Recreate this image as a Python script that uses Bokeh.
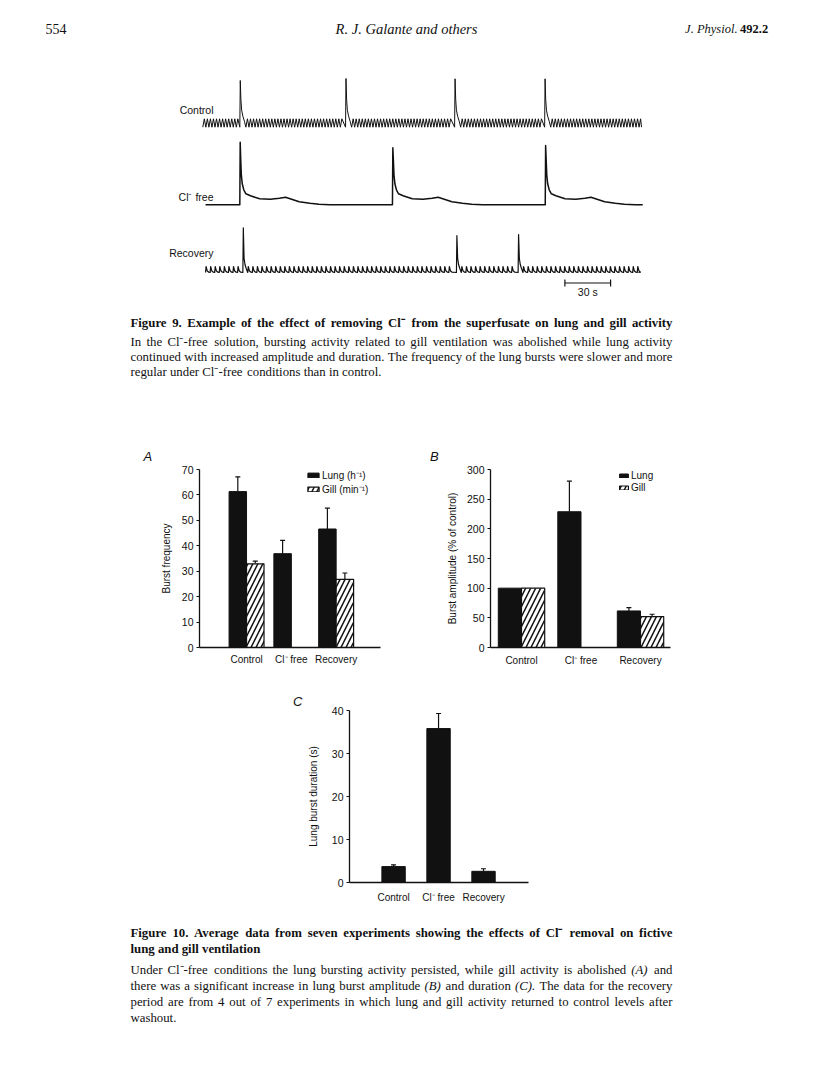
from bokeh.plotting import figure
from bokeh.models import (Range1d, FixedTicker, Whisker, TeeHead, ColumnDataSource,
                          Legend, LegendItem, Spacer)
from bokeh.layouts import column, row
from bokeh.embed import file_html
from bokeh.resources import INLINE
from bokeh.core.properties import value

SERIF = "Liberation Serif"
SANS = "Liberation Sans"
INK = "#111111"

# ---------------- Figure 10 data ----------------
conditions = ["Control", "Cl\u207b free", "Recovery"]
freq_lung = [61.3, 36.9, 46.6]
freq_lung_err = [5.8, 5.2, 8.2]
freq_gill = [32.9, 0.0, 26.8]
freq_gill_err = [1.1, 0.0, 2.5]
amp_lung = [100.0, 228.8, 61.6]
amp_lung_err = [0.0, 51.5, 5.7]
amp_gill = [100.0, 0.0, 52.2]
amp_gill_err = [0.0, 0.0, 3.8]
dur_lung = [3.7, 35.8, 2.6]
dur_lung_err = [0.4, 3.5, 0.6]
freq_ticks = [0, 10, 20, 30, 40, 50, 60, 70]
amp_ticks = [0, 50, 100, 150, 200, 250, 300]
dur_ticks = [0, 10, 20, 30, 40]

# ---------------- Figure 9 data (recordings; time in s, amplitude in a.u.) ----------------
trace_labels = ["Control", "Cl\u207b free", "Recovery"]

control_span = [0.0, 288.0]
control_bursts = [24.3, 93.7, 165.3, 224.4]
control_peaks = [46.7, 48.7, 48.4, 48.4]
control_gill_period = 2.0
control_gill_amp = 8.4
control_cycle_phase = [0.0, 0.5]
control_cycle_level = [0.0, 1.0]
control_burst_dt = [0.0, 0.3, 0.7, 1.2, 2.0, 3.0, 4.0]
control_burst_tail = [28.0, 17.0, 11.0, 6.0, 0.0]

clfree_span = [1.8, 288.8]
clfree_bursts = [24.3, 124.5, 224.8]
clfree_peaks = [62.6, 57.0, 59.3]
clfree_burst_dt = [0.0, 0.25, 0.6, 1.0, 1.6, 2.6, 4.0, 7.0, 13.0, 20.0, 26.0, 30.0, 34.0, 39.0, 46.0, 52.0, 59.0]
clfree_burst_tail = [45.0, 30.0, 21.0, 15.0, 11.0, 9.0, 6.0, 5.5, 6.5, 7.5, 5.5, 3.0, 1.5, 0.5, 0.0]

recovery_span = [1.8, 286.0]
recovery_bursts = [26.3, 166.5, 207.0]
recovery_peaks = [44.7, 37.0, 38.0]
recovery_gill_period = 3.0
recovery_gill_amp = 6.0
recovery_cycle_phase = [0.0, 0.12, 0.35, 0.7]
recovery_cycle_level = [0.0, 1.0, 0.3, 0.05]
recovery_burst_dt = [0.0, 0.3, 0.8, 1.4, 2.2, 3.2]
recovery_burst_tail = [14.0, 8.0, 4.0, 0.0]

scalebar_start = 237.7
scalebar_seconds = 30.0

# ---------------- captions ----------------
header_left = "554"
header_mid = "R. J. Galante and others"
header_journal = "J. Physiol."
header_volume = "492.2"

fig9_title = "Figure 9. Example of the effect of removing Cl\u207b from the superfusate on lung and gill activity"
fig9_body = [
    "In the Cl\u207b-free solution, bursting activity related to gill ventilation was abolished while lung activity",
    "continued with increased amplitude and duration. The frequency of the lung bursts were slower and more",
    "regular under Cl\u207b-free conditions than in control.",
]
fig10_title = [
    "Figure 10. Average data from seven experiments showing the effects of Cl\u207b removal on fictive",
    "lung and gill ventilation",
]
fig10_body = [
    "Under Cl\u207b-free conditions the lung bursting activity persisted, while gill activity is abolished (A) and",
    "there was a significant increase in lung burst amplitude (B) and duration (C). The data for the recovery",
    "period are from 4 out of 7 experiments in which lung and gill activity returned to control levels after",
    "washout.",
]
italic_tokens = {"(A)", "(B)", "(C)."}

# ---------------- helpers ----------------
W_REG = {" ": 250, "(": 333, ")": 333, ",": 250, "-": 333, ".": 250, ":": 278,
         "A": 722, "B": 667, "C": 667, "D": 722, "E": 611, "F": 556, "G": 722, "H": 722, "I": 333,
         "J": 389, "K": 722, "L": 611, "M": 889, "N": 722, "O": 722, "P": 556, "Q": 722, "R": 667,
         "S": 556, "T": 611, "U": 722, "V": 722, "W": 944, "X": 722, "Y": 722, "Z": 611,
         "a": 444, "b": 500, "c": 444, "d": 500, "e": 444, "f": 333, "g": 500, "h": 500, "i": 278,
         "j": 278, "k": 500, "l": 278, "m": 778, "n": 500, "o": 500, "p": 500, "q": 500, "r": 333,
         "s": 389, "t": 278, "u": 500, "v": 500, "w": 722, "x": 500, "y": 500, "z": 444,
         "\u207b": 420}
W_BOLD = {" ": 250, "(": 333, ")": 333, ",": 250, "-": 333, ".": 250, ":": 333,
          "A": 722, "B": 667, "C": 722, "D": 722, "E": 667, "F": 611, "G": 778, "H": 778, "I": 389,
          "J": 500, "K": 778, "L": 667, "M": 944, "N": 722, "O": 778, "P": 611, "Q": 778, "R": 722,
          "S": 556, "T": 667, "U": 722, "V": 722, "W": 1000, "X": 722, "Y": 722, "Z": 667,
          "a": 500, "b": 556, "c": 444, "d": 556, "e": 444, "f": 333, "g": 500, "h": 556, "i": 278,
          "j": 333, "k": 556, "l": 278, "m": 833, "n": 556, "o": 500, "p": 556, "q": 556, "r": 444,
          "s": 389, "t": 333, "u": 556, "v": 500, "w": 722, "x": 500, "y": 500, "z": 444,
          "\u207b": 420}


def text_width(s, size, bold=False):
    tbl = W_BOLD if bold else W_REG
    return sum(tbl.get(ch, 500) for ch in s) * size / 1000.0


def put_text(p, xs, ys, texts, size, font=SERIF, style="normal", align="left",
             baseline="middle", color=INK, **kw):
    p.text(x=xs, y=ys, text=texts, text_font=value(font), text_font_size=value(f"{size}px"),
           text_font_style=style, text_align=align, text_baseline=baseline,
           text_color=color, **kw)


def put_line(p, line, x0, x1, y, size, bold=False, justify=True):
    words = line.split(" ")
    widths = [text_width(w, size, bold) for w in words]
    if justify and len(words) > 1:
        gap = (x1 - x0 - sum(widths)) / (len(words) - 1)
        gap = max(gap, size * 0.18)
    else:
        gap = size * 0.25
    xs, x = [], x0
    for wd in widths:
        xs.append(x)
        x += wd + gap
    base_style = "bold" if bold else "normal"
    norm = [(xx, w) for xx, w in zip(xs, words) if w not in italic_tokens]
    ital = [(xx, w) for xx, w in zip(xs, words) if w in italic_tokens]
    if norm:
        put_text(p, [a for a, _ in norm], [y] * len(norm), [b for _, b in norm], size,
                 style=base_style)
    if ital:
        put_text(p, [a for a, _ in ital], [y] * len(ital), [b for _, b in ital], size,
                 style="italic")


def text_canvas(width, x0, x1, ytop, ybot):
    p = figure(width=width, height=int(round(ybot - ytop)), x_range=Range1d(x0, x1),
               y_range=Range1d(ybot, ytop), output_backend="svg", toolbar_location=None,
               x_axis_location=None, y_axis_location=None,
               min_border_left=0, min_border_right=0, min_border_top=0, min_border_bottom=0)
    p.outline_line_color = None
    p.background_fill_color = "white"
    p.border_fill_color = "white"
    for g in p.grid:
        g.visible = False
    return p


def build_trace(span, period, phase, level, amp, bursts, peaks, bdt, btail):
    xs, ys = [], []
    t, t_end = span
    k = 0
    while t < t_end:
        if k < len(bursts) and bursts[k] < t + period:
            tb = bursts[k]
            shape = [0.0, peaks[k]] + list(btail)
            for d, a in zip(bdt, shape):
                xs.append(tb + d)
                ys.append(a)
            t = tb + bdt[-1]
            k += 1
            continue
        for ph, lv in zip(phase, level):
            xs.append(t + ph * period)
            ys.append(lv * amp)
        t += period
    xs.append(t_end)
    ys.append(0.0)
    return xs, ys


PAGE_W = 812
CAP_X0, CAP_X1 = 130, 672
CAP_SIZE = 12.8

# ---------------- top: header, Figure 9, caption ----------------
PX_PER_S = 45.7 / 30.0
T0_PAGE_X = 202.3
TOP_H = 462
top = text_canvas(PAGE_W, 0, PAGE_W, 0, TOP_H)
top.extra_x_ranges = {"t": Range1d((0 - T0_PAGE_X) / PX_PER_S, (PAGE_W - T0_PAGE_X) / PX_PER_S)}
top.extra_y_ranges = {"v": Range1d(0, TOP_H)}

put_text(top, [45], [28.5], [header_left], 14)
put_text(top, [406], [28.5], [header_mid], 14.5, style="italic", align="center")
put_text(top, [737], [28.5], [header_journal], 12.5, style="italic", align="right")
put_text(top, [739.5], [28.5], [header_volume], 12.5, style="bold", align="left")

# trace labels
put_text(top, [213, 213, 213], [109.5, 196, 252.7], trace_labels, 10.5, font=SANS, align="right")

traces = [
    (build_trace(control_span, control_gill_period, control_cycle_phase, control_cycle_level,
                 control_gill_amp, control_bursts, control_peaks, control_burst_dt,
                 control_burst_tail), 126.7, 1.0),
    (build_trace(clfree_span, 10.0, [0.0], [0.0], 0.0, clfree_bursts, clfree_peaks,
                 clfree_burst_dt, clfree_burst_tail), 204.3, 1.5),
    (build_trace(recovery_span, recovery_gill_period, recovery_cycle_phase, recovery_cycle_level,
                 recovery_gill_amp, recovery_bursts, recovery_peaks, recovery_burst_dt,
                 recovery_burst_tail), 272.0, 1.2),
]
for (xs, ys), base_y, lw in traces:
    base = TOP_H - base_y
    top.line(x=xs, y=[base + v for v in ys], x_range_name="t", y_range_name="v",
             line_color=INK, line_width=lw, line_join="round")

sb_v = TOP_H - 282.5
sb0, sb1 = scalebar_start, scalebar_start + scalebar_seconds
top.segment(x0=[sb0, sb0, sb1], y0=[sb_v, sb_v - 3.5, sb_v - 3.5],
            x1=[sb1, sb0, sb1], y1=[sb_v, sb_v + 3.5, sb_v + 3.5],
            x_range_name="t", y_range_name="v", line_color=INK, line_width=1.2)
top.text(x=[(sb0 + sb1) / 2], y=[TOP_H - 291.0], text=[f"{int(scalebar_seconds)} s"],
         x_range_name="t", y_range_name="v", text_font=value(SANS),
         text_font_size=value("10.5px"), text_align="center", text_baseline="middle",
         text_color=INK)

# Figure 9 caption
put_line(top, fig9_title, CAP_X0, CAP_X1, 322.7, CAP_SIZE, bold=True)
for i, (ln, yy) in enumerate(zip(fig9_body, [341.7, 356.7, 371.5])):
    put_line(top, ln, CAP_X0, CAP_X1, yy, CAP_SIZE, justify=(i < len(fig9_body) - 1))

# panel letters A, B
put_text(top, [143, 429.5], [455.5, 455.5], ["A", "B"], 13, font=SANS, style="italic")


# ---------------- bar chart panels ----------------
def panel(width, height, mbl, mbr, mbt, mbb, xr, yr, ticks, ylabel, lab_standoff, x_standoff):
    p = figure(width=width, height=height, x_range=Range1d(*xr), y_range=Range1d(*yr),
               output_backend="svg", toolbar_location=None,
               min_border_left=mbl, min_border_right=mbr, min_border_top=mbt,
               min_border_bottom=mbb)
    p.outline_line_color = None
    p.xgrid.visible = False
    p.ygrid.visible = False
    p.background_fill_color = "white"
    p.border_fill_color = "white"
    for ax in (p.xaxis[0], p.yaxis[0]):
        ax.axis_line_color = INK
        ax.axis_line_width = 1.3
        ax.major_label_text_font = SANS
        ax.major_label_text_color = INK
        ax.minor_tick_line_color = None
    p.yaxis.ticker = FixedTicker(ticks=ticks)
    p.yaxis.major_tick_out = 3
    p.yaxis.major_tick_in = 0
    p.yaxis.major_tick_line_width = 1.2
    p.yaxis.major_tick_line_color = INK
    p.yaxis.major_label_text_font_size = "10.5px"
    p.yaxis.major_label_standoff = 3
    p.yaxis.axis_label = ylabel
    p.yaxis.axis_label_standoff = lab_standoff
    p.yaxis.axis_label_text_font = SANS
    p.yaxis.axis_label_text_font_size = "10px"
    p.yaxis.axis_label_text_font_style = "normal"
    p.yaxis.axis_label_text_color = INK
    p.xaxis.ticker = FixedTicker(ticks=[0, 1, 2])
    p.xaxis.major_label_overrides = {0: conditions[0], 1: conditions[1], 2: conditions[2]}
    p.xaxis.major_tick_line_color = None
    p.xaxis.major_label_text_font_size = "10px"
    p.xaxis.major_label_standoff = x_standoff
    return p


def add_bars(p, lung, lung_err, gill, gill_err, off, w):
    r_l = p.vbar(x=[i - off for i in range(3)], top=lung, width=w, bottom=0,
                 fill_color=INK, line_color=INK, line_width=1.0)
    r_g = None
    if gill is not None:
        gx = [i + off for i, g in enumerate(gill) if g > 0]
        gt = [g for g in gill if g > 0]
        r_g = p.vbar(x=gx, top=gt, width=w, bottom=0, fill_color="white", line_color=INK,
                     line_width=1.2, hatch_pattern="/", hatch_color=INK, hatch_weight=1.5,
                     hatch_scale=10)
    wx, wlo, whi = [], [], []
    for i in range(3):
        if lung_err[i] > 0:
            wx.append(i - off); wlo.append(lung[i]); whi.append(lung[i] + lung_err[i])
        if gill is not None and gill_err[i] > 0:
            wx.append(i + off); wlo.append(gill[i]); whi.append(gill[i] + gill_err[i])
    src = ColumnDataSource(dict(x=wx, lo=wlo, hi=whi))
    p.add_layout(Whisker(source=src, base="x", lower="lo", upper="hi", dimension="height",
                         line_color=INK, line_width=1.2, lower_head=None,
                         upper_head=TeeHead(size=5, line_color=INK, line_width=1.2)))
    return r_l, r_g


def add_legend(p, r_l, r_g, labels, loc, gw, gh):
    leg = Legend(items=[LegendItem(label=labels[0], renderers=[r_l]),
                        LegendItem(label=labels[1], renderers=[r_g])],
                 location=loc, glyph_width=gw, glyph_height=gh, label_standoff=2,
                 label_text_font=SANS, label_text_font_size="10px", label_text_color=INK,
                 padding=0, margin=0, spacing=0, label_height=12,
                 border_line_color=None, background_fill_alpha=0)
    p.add_layout(leg)


# A  (page x 140..430, frame 199..380)
pa = panel(290, 206, 59, 50, 7, 20, (-1.05, 2.99), (0, 70), freq_ticks, "Burst frequency", 7, 0)
ra_l, ra_g = add_bars(pa, freq_lung, freq_lung_err, freq_gill, freq_gill_err, 0.195, 0.39)
add_legend(pa, ra_l, ra_g, ["Lung (h\u207b\u00b9)", "Gill (min\u207b\u00b9)"], (107, 151), 14, 6)

# B  (page x 430..700, frame 490..670)
pb = panel(270, 206, 60, 30, 7, 20, (-0.521, 2.504), (0, 300), amp_ticks,
           "Burst amplitude (% of control)", 6, 1)
rb_l, rb_g = add_bars(pb, amp_lung, amp_lung_err, amp_gill, amp_gill_err, 0.195, 0.39)
add_legend(pb, rb_l, rb_g, ["Lung", "Gill"], (128, 154), 11, 5)

# C  (page x 290..560, frame 349..528; row spans page y 668..905, frame top at 710)
pc = panel(270, 237, 59, 32, 42, 16, (-0.98, 3.0), (0, 40), dur_ticks,
           "Lung burst duration (s)", 10, 3)
rc_l, _ = add_bars(pc, dur_lung, dur_lung_err, None, None, 0.0, 0.52)
pc.title.text = "C"
pc.title.align = "left"
pc.title.offset = 292.5 - 349.0
pc.title.standoff = 4
pc.title.text_font = SANS
pc.title.text_font_style = "italic"
pc.title.text_font_size = "13px"
pc.title.text_color = INK

# ---------------- bottom caption ----------------
bot = text_canvas(PAGE_W, 0, PAGE_W, 905, 1068)
put_line(bot, fig10_title[0], CAP_X0, CAP_X1, 932, CAP_SIZE, bold=True)
put_line(bot, fig10_title[1], CAP_X0, CAP_X1, 948, CAP_SIZE, bold=True, justify=False)
for i, (ln, yy) in enumerate(zip(fig10_body, [969, 985, 1001, 1017])):
    put_line(bot, ln, CAP_X0, CAP_X1, yy, CAP_SIZE, justify=(i < len(fig10_body) - 1))

layout = column(
    top,
    row(Spacer(width=140, height=206), pa, pb),
    row(Spacer(width=290, height=237), pc),
    bot,
)

open("out.html", "w").write(file_html(layout, INLINE, title="Figures 9 and 10"))
